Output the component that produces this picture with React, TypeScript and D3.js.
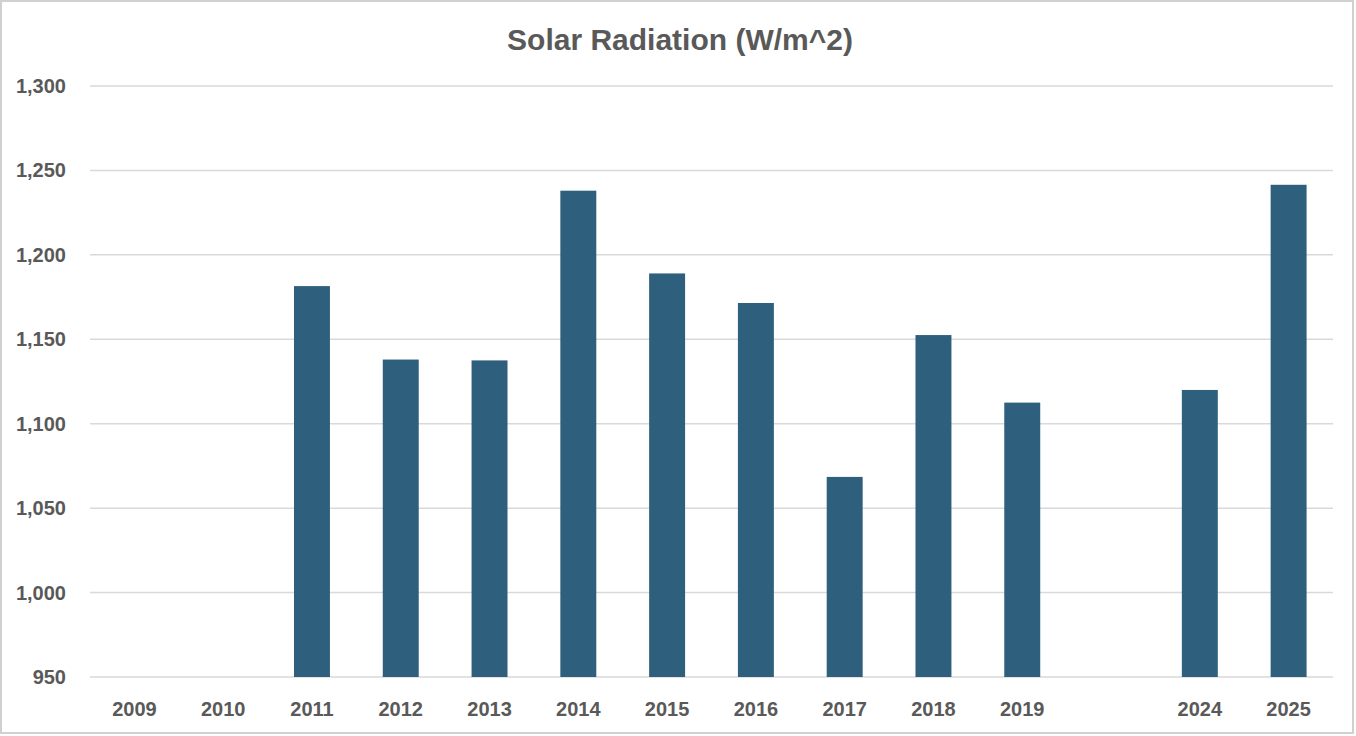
import { useEffect, useRef } from "react"
import * as d3 from "d3"

const years = ["2009", "2010", "2011", "2012", "2013", "2014", "2015", "2016", "2017", "2018", "2019", "", "2024", "2025"]
const radiation: (number | null)[] = [null, null, 1181.5, 1138, 1137.5, 1238, 1189, 1171.5, 1068.5, 1152.5, 1112.5, null, 1120, 1241.5]
const yTicks = [950, 1000, 1050, 1100, 1150, 1200, 1250, 1300]

const W = 1356
const H = 736

export default function App() {
  const svgRef = useRef<SVGSVGElement>(null)

  useEffect(() => {
    if (!svgRef.current) return
    const svg = d3.select(svgRef.current)
    svg.selectAll("*").remove()

    const margin = { top: 86, right: 23, bottom: 59, left: 90 }
    const width = W - margin.left - margin.right
    const height = H - margin.top - margin.bottom
    const font = "'Liberation Sans', Arial, sans-serif"
    const grey = "#595959"

    svg
      .append("rect")
      .attr("x", 1)
      .attr("y", 1)
      .attr("width", W - 4)
      .attr("height", H - 4)
      .attr("fill", "#fff")
      .attr("stroke", "#d0d0d0")
      .attr("stroke-width", 2)

    svg
      .append("text")
      .attr("x", W / 2 + 2)
      .attr("y", 50)
      .attr("text-anchor", "middle")
      .style("font-family", font)
      .style("font-size", "30px")
      .style("font-weight", "bold")
      .style("fill", grey)
      .text("Solar Radiation (W/m^2)")

    const g = svg.append("g").attr("transform", `translate(${margin.left},${margin.top})`)

    const x = d3.scaleBand().domain(years).range([0, width]).paddingInner(0.595).paddingOuter(0.2975)
    const y = d3.scaleLinear().domain([950, 1300]).range([height, 0])

    g.selectAll(".grid-line")
      .data(yTicks)
      .enter()
      .append("line")
      .attr("class", "grid-line")
      .attr("x1", 0)
      .attr("x2", width)
      .attr("y1", (d) => y(d))
      .attr("y2", (d) => y(d))
      .attr("stroke", "#d9d9d9")
      .attr("stroke-width", 1.5)

    g.selectAll(".y-label")
      .data(yTicks)
      .enter()
      .append("text")
      .attr("class", "y-label")
      .attr("x", -24)
      .attr("y", (d) => y(d))
      .attr("dy", "0.35em")
      .attr("text-anchor", "end")
      .style("font-family", font)
      .style("font-size", "20px")
      .style("font-weight", "bold")
      .style("fill", grey)
      .text((d) => d3.format(",")(d))

    const bars = years.map((yr, i) => ({ year: yr, value: radiation[i] })).filter((d) => d.value != null)

    g.selectAll(".bar")
      .data(bars)
      .enter()
      .append("rect")
      .attr("class", "bar")
      .attr("x", (d) => x(d.year) as number)
      .attr("width", x.bandwidth())
      .attr("y", (d) => y(d.value as number))
      .attr("height", (d) => height - y(d.value as number))
      .attr("fill", "#2e607e")

    g.selectAll(".x-label")
      .data(years)
      .enter()
      .append("text")
      .attr("class", "x-label")
      .attr("x", (d) => (x(d) as number) + x.bandwidth() / 2)
      .attr("y", height + 39)
      .attr("text-anchor", "middle")
      .style("font-family", font)
      .style("font-size", "20px")
      .style("font-weight", "bold")
      .style("fill", grey)
      .text((d) => d)
  }, [])

  return (
    <div style={{ width: W, height: H, position: "absolute", left: 0, top: 0 }}>
      <svg ref={svgRef} width={W} height={H}></svg>
    </div>
  )
}
